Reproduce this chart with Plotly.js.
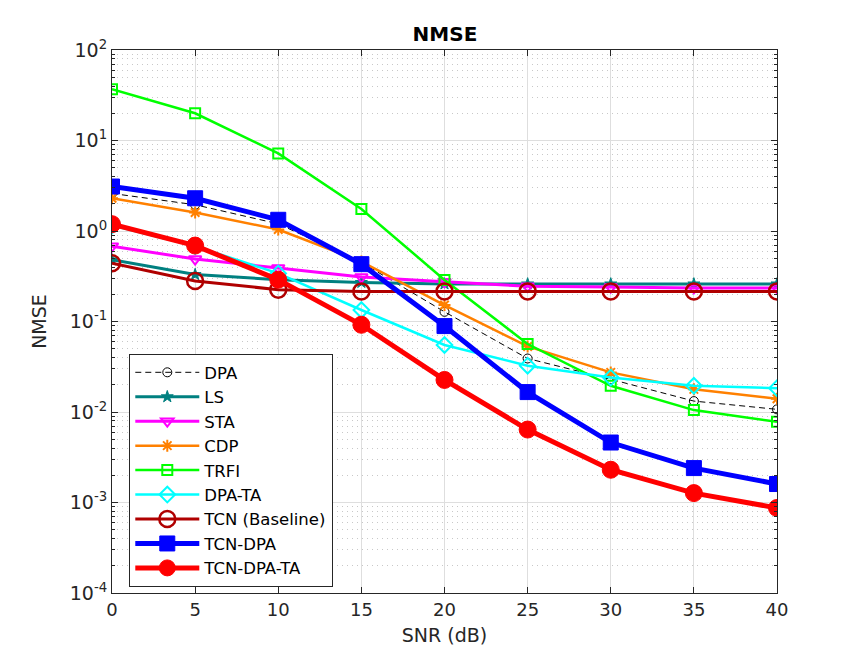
<!DOCTYPE html>
<html>
<head>
<meta charset="utf-8">
<script src="https://cdn.plot.ly/plotly-3.0.1.min.js"></script>
<style>
  body { margin: 0; background: #fff; }
  #chart { width: 859px; height: 667px; }
</style>
</head>
<body>
<div id="chart"></div>
<script>
// SNR points (dB)
var snr = [0, 5, 10, 15, 20, 25, 30, 35, 40];

// NMSE
var dpa       = [2.6, 1.95, 1.2, 0.45, 0.128, 0.039, 0.023, 0.0132, 0.0107];
var ls        = [0.48, 0.33, 0.29, 0.27, 0.26, 0.26, 0.26, 0.26, 0.26];
var sta       = [0.68, 0.49, 0.39, 0.31, 0.275, 0.245, 0.24, 0.235, 0.235];
var cdp       = [2.3, 1.6, 1.04, 0.46, 0.152, 0.053, 0.0274, 0.0178, 0.014];
var trfi      = [36.8, 20, 7.2, 1.75, 0.288, 0.0564, 0.0195, 0.0105, 0.0078];
var dpaTa     = [1.15, 0.68, 0.34, 0.134, 0.055, 0.0325, 0.024, 0.0195, 0.0183];
var tcn       = [0.44, 0.28, 0.225, 0.215, 0.215, 0.215, 0.215, 0.215, 0.215];
var tcnDpa    = [3.1, 2.3, 1.33, 0.43, 0.089, 0.0166, 0.0046, 0.0024, 0.0016];
var tcnDpaTa  = [1.19, 0.69, 0.29, 0.092, 0.0226, 0.0064, 0.0023, 0.00127, 0.00087];

var yTickVals = [1e-4, 1e-3, 1e-2, 1e-1, 1e0, 1e1, 1e2];
var yTickText = ['10<sup>-4</sup>', '10<sup>-3</sup>', '10<sup>-2</sup>', '10<sup>-1</sup>',
                 '10<sup>0</sup>', '10<sup>1</sup>', '10<sup>2</sup>'];

function series(name, y, color, width, symbol, size, mlw, dash) {
  return {
    x: snr, y: y, name: name, type: 'scatter', mode: 'lines+markers',
    line: { color: color, width: width, dash: dash || 'solid' },
    marker: { symbol: symbol, size: size, color: color,
              line: { color: color, width: mlw } }
  };
}

var data = [
  series('DPA', dpa, '#000000', 1, 'circle-open', 9, 1, '6px,4px'),
  series('LS', ls, '#008080', 3, 'star', 9, 1),
  series('STA', sta, '#FF00FF', 3, 'triangle-down-open', 11, 2),
  series('CDP', cdp, '#FF8000', 2.5, 'asterisk-open', 10, 2),
  series('TRFI', trfi, '#00FF00', 2.5, 'square-open', 10, 2),
  series('DPA-TA', dpaTa, '#00FFFF', 2.5, 'diamond-open', 12, 2),
  series('TCN (Baseline)', tcn, '#B00000', 3, 'circle-open', 16, 2.5),
  series('TCN-DPA', tcnDpa, '#0000FF', 5, 'square', 15, 1),
  series('TCN-DPA-TA', tcnDpaTa, '#FF0000', 5, 'circle', 17, 1)
];

var axisColor = '#262626';
var layout = {
  width: 859, height: 667,
  margin: { l: 112, r: 82, t: 50, b: 74 },
  paper_bgcolor: '#ffffff',
  plot_bgcolor: '#ffffff',
  font: { family: 'DejaVu Sans, sans-serif', size: 18, color: axisColor },
  title: {
    text: '<b>NMSE</b>',
    font: { family: 'DejaVu Sans, sans-serif', size: 20, color: '#000' },
    x: 0.518, xanchor: 'center', y: 0.949, yanchor: 'middle'
  },
  showlegend: true,
  legend: {
    x: 0.026, xanchor: 'left', y: 0.44, yanchor: 'top',
    bgcolor: '#ffffff', bordercolor: axisColor, borderwidth: 1,
    font: { family: 'DejaVu Sans, sans-serif', size: 16.5, color: '#000' },
    itemwidth: 64,
    tracegroupgap: 0
  },
  xaxis: {
    range: [0, 40], dtick: 5, tick0: 0,
    showline: true, linecolor: axisColor, linewidth: 1, mirror: 'ticks',
    ticks: 'inside', ticklen: 6, tickcolor: axisColor,
    showgrid: true, gridcolor: '#dedede', gridwidth: 1,
    zeroline: false,
    tickfont: { size: 18 },
    title: { text: 'SNR (dB)', font: { size: 19 }, standoff: 10 }
  },
  yaxis: {
    type: 'log', range: [-4, 2],
    tickmode: 'array', tickvals: yTickVals, ticktext: yTickText,
    showline: true, linecolor: axisColor, linewidth: 1, mirror: 'ticks',
    ticks: 'inside', ticklen: 6, tickcolor: axisColor,
    showgrid: true, gridcolor: '#dedede', gridwidth: 1,
    zeroline: false,
    tickfont: { size: 19 },
    minor: {
      tickmode: 'linear', dtick: 'D1', ticks: 'inside', ticklen: 3, tickcolor: axisColor,
      showgrid: true, gridcolor: '#c8c8c8', griddash: '1px,4px', gridwidth: 1
    },
    title: { text: 'NMSE', font: { size: 19 }, standoff: 18 }
  }
};

Plotly.newPlot('chart', data, layout, { displayModeBar: false, staticPlot: true });
</script>
</body>
</html>
